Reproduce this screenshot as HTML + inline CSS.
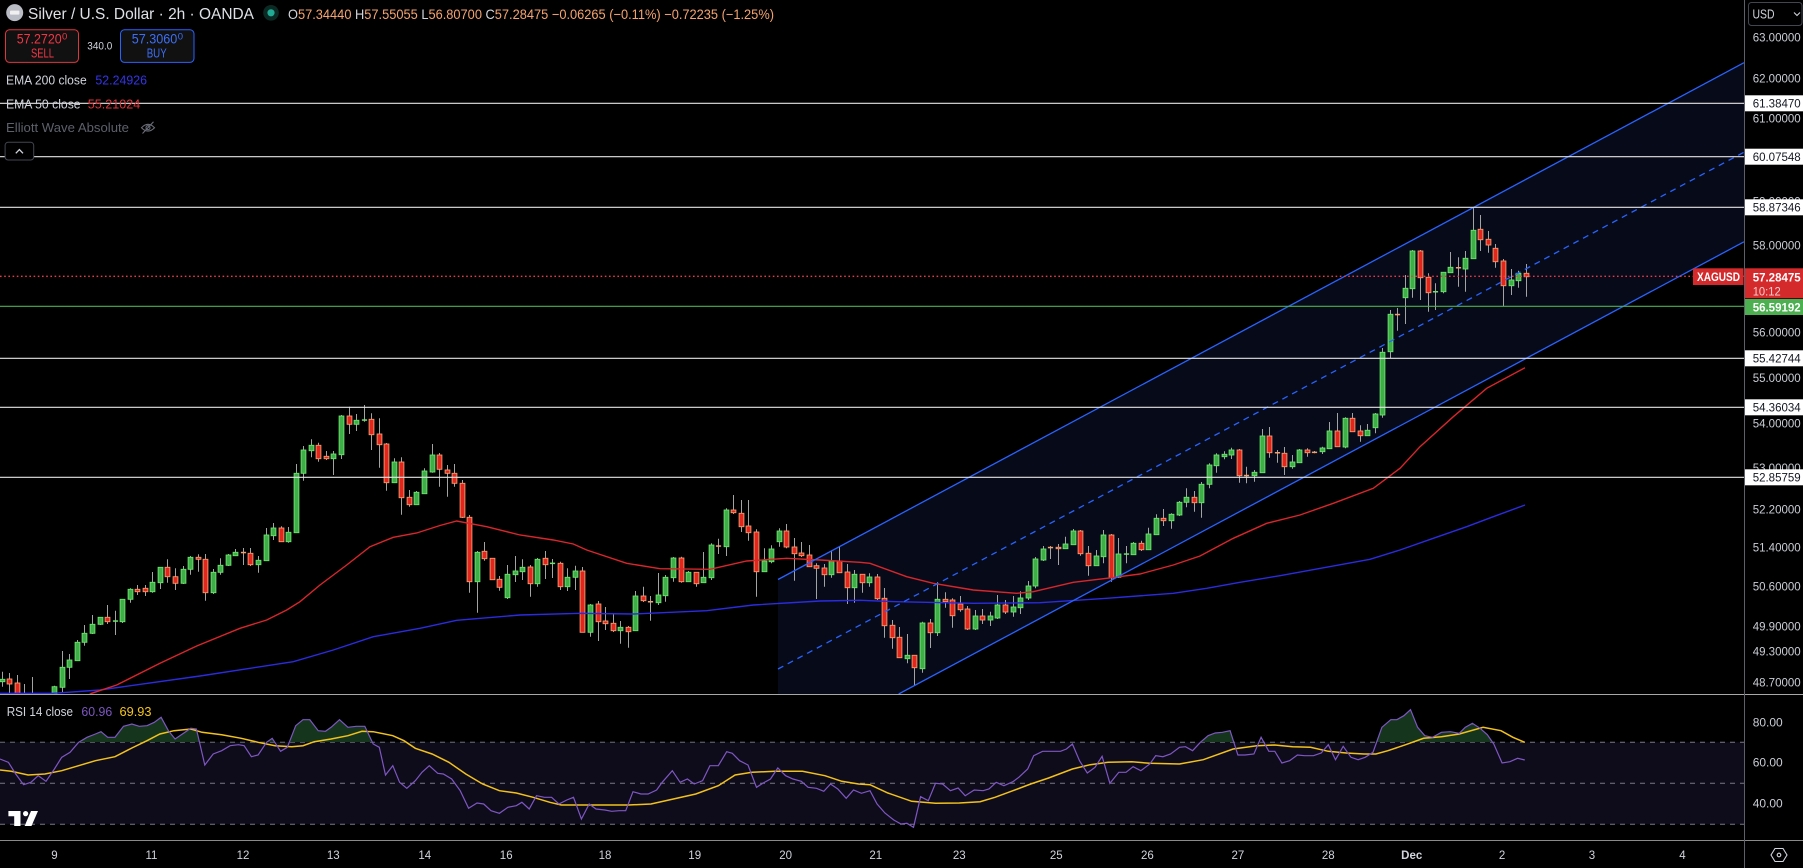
<!DOCTYPE html>
<html><head><meta charset="utf-8">
<style>
html,body{margin:0;padding:0;background:#000;overflow:hidden;}
svg{display:block;}
text{font-family:"Liberation Sans",Arial,sans-serif;}
</style></head>
<body>
<svg id="s" width="1803" height="868" viewBox="0 0 1803 868" xmlns="http://www.w3.org/2000/svg">
<defs>
<clipPath id="cp"><rect x="0" y="0" width="1744" height="694"/></clipPath>
<clipPath id="ob"><rect x="0" y="695" width="1744" height="47.3"/></clipPath>
</defs>
<rect width="1803" height="868" fill="#000"/>

<!-- PRICE PANE -->
<g clip-path="url(#cp)">
 <polygon points="778,579.5 1744,62.7 1744,241.8 898.7,694 778,694" fill="#070b19"/>
 <g id="candles"></g>
 <polyline fill="none" stroke="#2b2be0" stroke-width="1.4" points="0,693.3 53.3,693.3 100,690 200,676 293.3,661.7 333.3,650 373.3,636.7 420,628.3 456.7,620.3 520,615 580,613.3 633.3,614 706.7,610.7 753.3,605 820,601 860,600.3 896.7,601.7 973.3,603.3 1040,602.7 1106.7,598.3 1173.3,593.3 1206.7,588.3 1240,582.3 1280,575.7 1370,559.3 1400,550 1433.3,538.3 1466.7,526.7 1493.3,516.7 1525,505"/>
 <polyline fill="none" stroke="#d8262b" stroke-width="1.4" points="80,700 91.7,693.3 116.7,685 160,663.3 196.7,646 240,628.3 266.7,620 286.7,610 300,601.7 320,585 346.7,565 370,546.7 393.3,537.3 416.7,533 440,525.5 456.7,521 486.7,526.7 520,535 553.3,540 573.3,544 586.7,550 626.7,563.3 660,568.7 710,569.3 746.7,561 786.7,558.3 820,560 860,562.3 870,563.3 906.7,576.7 933.3,583.3 973.3,590 1016.7,593.3 1033.3,591.7 1073.3,582.3 1106.7,578.3 1140,574 1173.3,565 1200,556 1233.3,538.3 1266.7,523.3 1300,515 1333.3,503.3 1373.3,488.3 1386.7,478.3 1400,468.3 1420,446.7 1453.3,416.7 1486.7,388.3 1525,367.7"/>
 <line x1="778" y1="579.5" x2="1744" y2="62.7" stroke="#2962ff" stroke-width="1.3"/>
 <line x1="898.7" y1="694" x2="1744" y2="241.8" stroke="#2962ff" stroke-width="1.3"/>
 <line x1="778" y1="669" x2="1744" y2="152.2" stroke="#2962ff" stroke-width="1.3" stroke-dasharray="6 5"/>
 <g stroke="#e4e4e4" stroke-width="1.2">
  <line x1="0" y1="103.3" x2="1744" y2="103.3"/>
  <line x1="0" y1="156.7" x2="1744" y2="156.7"/>
  <line x1="0" y1="207.3" x2="1744" y2="207.3"/>
  <line x1="0" y1="358.3" x2="1744" y2="358.3"/>
  <line x1="0" y1="407.3" x2="1744" y2="407.3"/>
  <line x1="0" y1="477.3" x2="1744" y2="477.3"/>
 </g>
 <line x1="0" y1="306.3" x2="1744" y2="306.3" stroke="#4caf50" stroke-width="1.1"/>
 <line x1="0" y1="276.3" x2="1744" y2="276.3" stroke="#f23645" stroke-width="1.3" stroke-dasharray="1.6 2.6"/>
</g>

<!-- HEADER -->
<circle cx="14.7" cy="12.6" r="8.5" fill="#b9bcc4"/>
<rect x="10" y="10.6" width="9.4" height="4" rx="0.8" fill="#f0f0f0"/>
<text x="28" y="19.2" font-size="16" fill="#dfe1e6" textLength="226" lengthAdjust="spacingAndGlyphs">Silver / U.S. Dollar · 2h · OANDA</text>
<circle cx="271" cy="12.8" r="7.8" fill="#0c2a24"/>
<circle cx="271" cy="12.8" r="3.6" fill="#22ab94"/>
<text x="288" y="19" font-size="14" fill="#f5a370" textLength="486" lengthAdjust="spacingAndGlyphs"><tspan fill="#d1d4dc">O</tspan>57.34440 <tspan fill="#d1d4dc">H</tspan>57.55055 <tspan fill="#d1d4dc">L</tspan>56.80700 <tspan fill="#d1d4dc">C</tspan>57.28475 −0.06265 (−0.11%) −0.72235 (−1.25%)</text>

<rect x="5.5" y="29.8" width="73" height="32.6" rx="4" fill="#111111" stroke="#e0353b" stroke-width="1"/>
<text x="16.7" y="43.5" font-size="14" fill="#f23645" textLength="45" lengthAdjust="spacingAndGlyphs">57.2720</text>
<text x="62" y="39.3" font-size="9.5" fill="#f23645">0</text>
<text x="31" y="57.5" font-size="12.5" fill="#f23645" textLength="23" lengthAdjust="spacingAndGlyphs">SELL</text>
<text x="87.3" y="49.3" font-size="11" fill="#d1d4dc" textLength="25" lengthAdjust="spacingAndGlyphs">340.0</text>
<rect x="120.5" y="29.8" width="73.5" height="32.6" rx="4" fill="#111111" stroke="#2962ff" stroke-width="1"/>
<text x="131.7" y="43.5" font-size="14" fill="#3d6ef5" textLength="45.6" lengthAdjust="spacingAndGlyphs">57.3060</text>
<text x="177.8" y="39.3" font-size="9.5" fill="#3d6ef5">0</text>
<text x="146.7" y="57.5" font-size="12.5" fill="#3d6ef5" textLength="20" lengthAdjust="spacingAndGlyphs">BUY</text>

<text x="6" y="84.3" font-size="12.5" fill="#d1d4dc" textLength="80.7" lengthAdjust="spacingAndGlyphs">EMA 200 close</text>
<text x="95.4" y="84.3" font-size="12.5" fill="#3434e8" textLength="51.6" lengthAdjust="spacingAndGlyphs">52.24926</text>
<text x="6" y="108.3" font-size="12.5" fill="#d1d4dc" textLength="74.6" lengthAdjust="spacingAndGlyphs">EMA 50 close</text>
<text x="87.8" y="108.3" font-size="12.5" fill="#e0353b" textLength="52.5" lengthAdjust="spacingAndGlyphs">55.21024</text>
<text x="6" y="131.8" font-size="12.5" fill="#5d606b" textLength="123" lengthAdjust="spacingAndGlyphs">Elliott Wave Absolute</text>
<g stroke="#6a6d78" stroke-width="1.1" fill="none">
 <path d="M141.5,127.7 Q148,121 154.5,127.7 Q148,134.4 141.5,127.7 Z"/>
 <circle cx="148" cy="127.7" r="2"/>
 <line x1="142.5" y1="133.5" x2="153.5" y2="121.8"/>
</g>
<rect x="5.1" y="142.3" width="28.6" height="17.7" rx="3" fill="#000" stroke="#434651" stroke-width="1"/>
<path d="M15.8,153.3 L19.4,149.6 L23,153.3" fill="none" stroke="#d1d4dc" stroke-width="1.3"/>

<!-- RSI PANE -->
<rect x="0" y="742.3" width="1744" height="82" fill="#0e0b1b"/>
<g stroke="#787b86" stroke-width="1" stroke-dasharray="5 5">
 <line x1="0" y1="742.3" x2="1744" y2="742.3"/>
 <line x1="0" y1="783.3" x2="1744" y2="783.3"/>
 <line x1="0" y1="824.3" x2="1744" y2="824.3"/>
</g>
<polygon clip-path="url(#ob)" fill="#15361c" points="0,759 8.4,762.3 15.7,774 23.6,784.7 30.9,782.3 38.2,775.7 46,781.3 54.4,769 61.7,757.3 70.1,752.3 78.6,742.3 87,737.3 95.4,734 101,731.7 107.7,737.3 115,737.3 123.5,726.3 131.9,724 139.2,726.3 147,725.7 154.3,722.3 161.1,717.3 168.4,730.7 175.1,739 182.4,734 190.8,728.3 196.4,729 204.8,765 213.2,754 221.7,750.7 230.1,745.7 238.5,744.7 244.1,745.7 251.4,756.7 258.1,755 266.6,742.3 272.2,738.3 280.6,751.3 287.3,747.3 295.7,725.7 303,719.7 309.8,719.7 318.2,730.7 325.5,731.3 331.1,727.3 339.5,719.7 347.9,727.3 356.3,726.3 364.8,726.3 373.2,744 1200.4,742.3 1208.1,735.7 1215.2,733 1222.4,732.3 1230.1,730.7 1237.9,755 1373,752.3 1381.9,727.3 1390.8,719.7 1396.8,719.7 1403.9,715.7 1410.5,709.7 1417.6,727.3 1424.8,735.7 1432.5,737.3 1441.4,732.3 1450.4,731.7 1459.3,733.3 1465.2,727.3 1472.4,723.3 1480.1,728.3 1487.3,734.7 1493.8,744 1524.8,760 1524.8,742.3 0,742.3"/>
<polyline fill="none" stroke="#f2c21b" stroke-width="1.5" points="0,770 11.2,771.3 28.1,775 44.9,774 61.7,770.7 78.6,765.7 95.4,760.7 115,756.7 131.9,748 147,740.7 159.9,734 174,730.7 190.8,729 202,732.3 221.7,734.7 241.3,738.3 258.1,742.3 275,745.7 291.8,746.7 303,745.7 314.3,741.7 331.1,739 347.9,735.7 362,731.3 373.2,731.7 392.8,735.7 404,740.7 415.3,748.3 432.1,754 448.9,762.3 465.8,774 482.6,784 499.4,790.7 516.3,793 533.1,797.3 549.9,802.3 561.2,805 578,805 606.1,805 628.5,805 651,804 673.4,799 695.8,794 718.3,785.7 735.1,775 752,772.3 774.4,771.3 802.5,771.3 824.9,775.7 841.8,781.3 858.6,784 870,784.7 887.9,793 911.7,801.3 935.5,803.3 959.3,803 980.1,801.7 995,797.3 1012.9,790.7 1030.7,784 1048.6,778 1072.4,769 1090.2,764.7 1108.1,762.3 1131.9,761.7 1149.8,763.3 1179.5,764 1203.3,759.7 1233.1,749 1256.9,745.7 1274.8,745 1292.6,746.7 1310.5,747.3 1328.3,751.3 1346.2,753 1364,754 1375.9,754 1387.9,750.7 1405.7,744.7 1423.6,738.3 1441.4,736.7 1459.3,734 1483.1,727.3 1501,730.7 1512.9,737.3 1524.8,742.3"/>
<polyline fill="none" stroke="#7e57c2" stroke-width="1.2" points="0,759 8.4,762.3 15.7,774 23.6,784.7 30.9,782.3 38.2,775.7 46,781.3 54.4,769 61.7,757.3 70.1,752.3 78.6,742.3 87,737.3 95.4,734 101,731.7 107.7,737.3 115,737.3 123.5,726.3 131.9,724 139.2,726.3 147,725.7 154.3,722.3 161.1,717.3 168.4,730.7 175.1,739 182.4,734 190.8,728.3 196.4,729 204.8,765 213.2,754 221.7,750.7 230.1,745.7 238.5,744.7 244.1,745.7 251.4,756.7 258.1,755 266.6,742.3 272.2,738.3 280.6,751.3 287.3,747.3 295.7,725.7 303,719.7 309.8,719.7 318.2,730.7 325.5,731.3 331.1,727.3 339.5,719.7 347.9,727.3 356.3,726.3 364.8,726.3 373.2,744 379.3,747.3 385.5,775 392.8,765.7 399.6,782.3 406.8,788.3 415.3,780.7 422,772.3 429.3,765.7 437.7,773.3 443.3,774 451.7,779 460.2,790.7 468.6,808.3 477,803 483.7,804 491,810.7 499.4,813.3 507.9,807.3 516.3,805.7 521.9,802.3 529.2,809 536.5,795.7 544.3,797.3 551.6,797.3 558.9,804 566.8,800 573.5,797.3 581.4,819 589.2,804 596,809 604.9,810 611.7,811.3 619,810.7 625.7,810.7 633,791.7 640.9,794 648.1,794 656.6,790 662.2,782.3 672.3,770.7 680.1,782.3 687.4,779 694.2,784 702.6,780.7 709.9,765.7 718.3,765.7 726.7,751.7 732.3,753.3 739.6,760.7 748,765 756.5,787.3 763.2,783 770.5,779 777.8,768 785.6,775.7 793,779 801.3,781.3 808.1,787.3 816.5,788.3 823.8,791.3 830.5,784 837.8,789 846.2,798.3 853.5,790 861.4,793.3 870,790.7 877.1,804 884.9,813 893.8,820 901,824 906.9,823.3 913.5,827.3 920.6,796.7 928.3,800.7 935.5,783.3 942.6,784 950.4,790.7 958.1,788 965.2,795.7 974.2,790 983.1,790.7 989,789 996.2,782.3 1003.9,785.7 1012.9,781.7 1018.8,777.3 1027.7,769 1033.7,755.7 1042.6,751.3 1051.5,751.3 1060.5,751.3 1066.4,749 1072.4,744 1079.5,760.7 1087.3,773 1095,767.3 1102.1,756.3 1109.9,783.3 1118.8,772.3 1126,772.3 1133.1,766.7 1140.8,770.7 1149.8,764 1155.7,755.7 1162.9,756.7 1170.6,754 1179.5,747.3 1185.5,746.7 1192.6,750.7 1200.4,742.3 1208.1,735.7 1215.2,733 1222.4,732.3 1230.1,730.7 1237.9,755 1245,755 1253.9,754 1261.1,737.3 1268.8,751.3 1274.8,751.3 1281.9,763 1289.6,760.7 1297.4,755 1304.5,755.7 1313.5,755.7 1321.2,753 1328.3,744.7 1335.5,759.7 1343.2,746.3 1351,757.3 1358.1,759.7 1365.2,757.3 1373,752.3 1381.9,727.3 1390.8,719.7 1396.8,719.7 1403.9,715.7 1410.5,709.7 1417.6,727.3 1424.8,735.7 1432.5,737.3 1441.4,732.3 1450.4,731.7 1459.3,733.3 1465.2,727.3 1472.4,723.3 1480.1,728.3 1487.3,734.7 1493.8,744 1502.1,763 1509.9,761.7 1517.6,758.3 1524.8,760"/>
<text x="6.7" y="716" font-size="12.5" fill="#d1d4dc" textLength="66.3" lengthAdjust="spacingAndGlyphs">RSI 14 close</text>
<text x="81.4" y="716" font-size="12.5" fill="#7e57c2" textLength="30.8" lengthAdjust="spacingAndGlyphs">60.96</text>
<text x="119.5" y="716" font-size="12.5" fill="#f5c518" textLength="32" lengthAdjust="spacingAndGlyphs">69.93</text>
<g fill="#ffffff">
 <path d="M8.4,811 H20.5 V826 H14.2 V816.2 H8.4 Z"/>
 <circle cx="25.6" cy="813.6" r="2.6"/>
 <path d="M31,811 H38 L31.5,826 H24.6 Z"/>
</g>

<!-- separators -->
<line x1="0" y1="694.5" x2="1803" y2="694.5" stroke="#a8a8a8" stroke-width="1"/>
<line x1="0" y1="840.5" x2="1803" y2="840.5" stroke="#8a8a8a" stroke-width="1"/>
<line x1="1744.5" y1="0" x2="1744.5" y2="868" stroke="#5d606b" stroke-width="1"/>

<!-- PRICE AXIS -->
<rect x="1748.5" y="2.5" width="53.5" height="23" rx="3" fill="#000" stroke="#434651" stroke-width="1"/>
<text x="1752.5" y="18.5" font-size="12.5" fill="#d1d4dc" textLength="22" lengthAdjust="spacingAndGlyphs">USD</text>
<path d="M1794,12.5 L1797,15.5 L1800,12.5" fill="none" stroke="#d1d4dc" stroke-width="1.1"/>
<g font-size="12" fill="#c9ccd4">
 <text x="1752.7" y="41.5" textLength="48" lengthAdjust="spacingAndGlyphs">63.00000</text>
 <text x="1752.7" y="82.5" textLength="48" lengthAdjust="spacingAndGlyphs">62.00000</text>
 <text x="1752.7" y="122.5" textLength="48" lengthAdjust="spacingAndGlyphs">61.00000</text>
 <text x="1752.7" y="205.5" textLength="48" lengthAdjust="spacingAndGlyphs">59.00000</text>
 <text x="1752.7" y="249.5" textLength="48" lengthAdjust="spacingAndGlyphs">58.00000</text>
 <text x="1752.7" y="336.5" textLength="48" lengthAdjust="spacingAndGlyphs">56.00000</text>
 <text x="1752.7" y="382" textLength="48" lengthAdjust="spacingAndGlyphs">55.00000</text>
 <text x="1752.7" y="427.5" textLength="48" lengthAdjust="spacingAndGlyphs">54.00000</text>
 <text x="1752.7" y="472" textLength="48" lengthAdjust="spacingAndGlyphs">53.00000</text>
 <text x="1752.7" y="513.5" textLength="48" lengthAdjust="spacingAndGlyphs">52.20000</text>
 <text x="1752.7" y="551.5" textLength="48" lengthAdjust="spacingAndGlyphs">51.40000</text>
 <text x="1752.7" y="590.5" textLength="48" lengthAdjust="spacingAndGlyphs">50.60000</text>
 <text x="1752.7" y="630.5" textLength="48" lengthAdjust="spacingAndGlyphs">49.90000</text>
 <text x="1752.7" y="655.5" textLength="48" lengthAdjust="spacingAndGlyphs">49.30000</text>
 <text x="1752.7" y="686.5" textLength="48" lengthAdjust="spacingAndGlyphs">48.70000</text>
 <text x="1752.7" y="726.5" textLength="30" lengthAdjust="spacingAndGlyphs">80.00</text>
 <text x="1752.7" y="766.5" textLength="30" lengthAdjust="spacingAndGlyphs">60.00</text>
 <text x="1752.7" y="807.5" textLength="30" lengthAdjust="spacingAndGlyphs">40.00</text>
</g>
<g>
 <rect x="1745" y="95.3" width="58" height="16" fill="#ffffff"/>
 <rect x="1745" y="148.7" width="58" height="16" fill="#ffffff"/>
 <rect x="1745" y="199.3" width="58" height="16" fill="#ffffff"/>
 <rect x="1745" y="350.3" width="58" height="16" fill="#ffffff"/>
 <rect x="1745" y="399.3" width="58" height="16" fill="#ffffff"/>
 <rect x="1745" y="469.3" width="58" height="16" fill="#ffffff"/>
</g>
<g font-size="12" fill="#131722">
 <text x="1752.7" y="107.6" textLength="48" lengthAdjust="spacingAndGlyphs">61.38470</text>
 <text x="1752.7" y="161" textLength="48" lengthAdjust="spacingAndGlyphs">60.07548</text>
 <text x="1752.7" y="211.6" textLength="48" lengthAdjust="spacingAndGlyphs">58.87346</text>
 <text x="1752.7" y="362.6" textLength="48" lengthAdjust="spacingAndGlyphs">55.42744</text>
 <text x="1752.7" y="411.6" textLength="48" lengthAdjust="spacingAndGlyphs">54.36034</text>
 <text x="1752.7" y="481.6" textLength="48" lengthAdjust="spacingAndGlyphs">52.85759</text>
</g>
<rect x="1745" y="268.3" width="58" height="30" fill="#d42a2c"/>
<text x="1752.7" y="281.5" font-size="12" font-weight="bold" fill="#ffffff" textLength="48" lengthAdjust="spacingAndGlyphs">57.28475</text>
<text x="1752.7" y="295.5" font-size="12" fill="#f5d0d0" textLength="28" lengthAdjust="spacingAndGlyphs">10:12</text>
<rect x="1745" y="299" width="58" height="16" fill="#4caf50"/>
<text x="1752.7" y="311.5" font-size="12" font-weight="bold" fill="#ffffff" textLength="48" lengthAdjust="spacingAndGlyphs">56.59192</text>
<rect x="1693" y="268.3" width="50.5" height="16.7" fill="#d42a2c"/>
<text x="1697" y="281" font-size="11.5" font-weight="bold" fill="#ffffff" textLength="43" lengthAdjust="spacingAndGlyphs">XAGUSD</text>

<!-- TIME AXIS -->
<g font-size="11.5" fill="#d1d4dc" text-anchor="middle">
 <text x="54.4" y="859">9</text>
 <text x="151.5" y="859">11</text>
 <text x="243" y="859">12</text>
 <text x="333.3" y="859">13</text>
 <text x="424.8" y="859">14</text>
 <text x="506.2" y="859">16</text>
 <text x="605" y="859">18</text>
 <text x="694.7" y="859">19</text>
 <text x="785.6" y="859">20</text>
 <text x="875.8" y="859">21</text>
 <text x="959.3" y="859">23</text>
 <text x="1056.3" y="859">25</text>
 <text x="1147.4" y="859">26</text>
 <text x="1237.9" y="859">27</text>
 <text x="1328.3" y="859">28</text>
 <text x="1411.7" y="859" font-weight="bold">Dec</text>
 <text x="1502.1" y="859">2</text>
 <text x="1592" y="859">3</text>
 <text x="1682.5" y="859">4</text>
</g>
<path d="M1775,848.5 L1783,848.5 L1787,855 L1783,861.5 L1775,861.5 L1771,855 Z" fill="none" stroke="#d1d4dc" stroke-width="1.1"/>
<circle cx="1779" cy="855" r="1.8" fill="none" stroke="#d1d4dc" stroke-width="1.1"/>
</svg>
<script>
var C=[
[1,679.3,681.7,671.7,686.7],[0,679,684,673,693],[0,683,700,675,705],[0,700,710,684,715],[1,700,710,677,715],
[0,705,715,700,720],[1,700,712,695,715],[1,686.7,694,685.7,697],[1,667.3,687.3,651,692],[1,660,667.3,654,679],
[1,642.3,660.7,640,661],[1,633.3,642.3,625,645.7],[1,624.3,633.3,615,634],[1,617.3,624.3,617,625],[0,617.3,621.7,605,624],
[3,621,621,610.7,635],[1,599.3,621.7,599,623],[1,589.3,599.3,588.3,602.7],[0,589.3,591.7,585,595],[0,588.3,591.7,585,596],
[1,582.3,591.7,572,592.7],[1,567.3,582.7,567,589],[0,567.3,576.7,559.3,582.7],[0,576.7,583.3,568.3,590],[1,569.3,583.3,566,584],
[1,557.3,569.3,556,574.7],[0,557.3,559.3,554.3,571.7],[0,559.3,592.7,554,600.7],[1,572.3,592.7,569,594],[1,565.3,572.3,558.3,574.7],
[1,555,565.3,554,566],[1,552.3,555.7,549,556],[2,552.5,552.5,548,565],[0,553.3,564.7,548,566],[1,560.3,564.7,556,572.7],
[1,535,560.7,528,561],[1,528,535.7,523,540],[0,528,541.7,526.3,542],[1,532.3,541.7,527,542.7],[1,473.3,532.7,464,533],
[1,450,473.3,446,480.7],[1,445.3,450.7,439.3,457.3],[0,445.3,458.7,442.7,461.7],[0,456.3,458.7,451,460],[1,454,458.7,451,475],
[1,416,454.7,415,459],[0,416,424.3,406.7,434],[1,420.3,424.3,414,431],[3,420,420,405,421.7],[0,419.3,434.7,413.3,450],
[0,434,444.7,418.3,467.7],[0,444,482.7,443,490.7],[1,462,482.7,458.3,483],[0,462,497.7,457.3,514.7],[0,497.3,504.7,490,506.7],
[1,492.3,504.7,491,505],[1,471,493.7,468.3,494],[1,455,472,444,472.7],[0,455,469.3,453,486.7],[0,470,473.3,465,496.7],
[0,473.3,483.3,464,486.7],[0,483.3,517.3,480,518],[0,517.3,581.7,515,592.7],[1,552.3,581.7,551,612.7],[0,551.3,558.7,542,560.7],
[0,558.3,579.7,558,580],[0,579.3,587.3,576,590.7],[1,574.3,597.7,565,599],[1,571,574.7,556,582],[1,567.3,571.7,559.3,580],
[0,567,583.7,565,596.7],[1,559.3,583.7,558,586.7],[0,558.3,564.7,551,579],[3,563.3,563.3,559,578],[0,563.3,586.7,561.7,590],
[1,577.3,586.7,568.3,591],[1,571,577.3,565.7,590],[0,571,632.3,567,632.5],[1,605,632.3,604,636.7],[0,604,621.7,601,641],
[0,621,623.7,607,630],[0,623.3,630.7,613,632],[1,627.3,630.7,621,643.7],[0,627.3,631.7,626,647.7],[1,596,630.7,591,631],
[0,596,600.7,586.7,602],[2,601.7,601.7,596,620.7],[1,595,602.7,573,605],[1,577.3,595.7,575,601.7],[1,558,577.7,557,581.7],
[0,558,581.7,556.7,582.7],[1,572.3,581.7,571,582],[0,572.3,583.7,572,586.7],[1,577.3,582.7,552,583],[1,545,577.7,543.3,580],
[2,546,546,538.7,554],[1,510,546.7,508.3,556],[0,510,512.7,495,514],[0,513.3,526.7,500,532],[0,526,532.7,500,540.7],
[0,532,571.7,529.3,596.7],[1,561,571.7,548.3,572],[1,549,561.7,545.3,563.3],[1,531,541.7,528.3,546.7],[0,531,547,524,548.3],
[0,547,553.7,538,580.7],[0,553,555.7,542,557],[0,555,566.7,545,567],[0,565.7,568.3,563.3,599],[0,568,574.7,564,586.7],
[1,561,574.7,550.7,577.7],[0,561,572.7,546,573],[0,572,587.7,564,604],[1,574.3,587.7,570,602.7],[0,574.3,582.7,574,592.7],
[1,577,582.7,573.3,586.7],[0,577,598.7,574,600],[0,598.3,625.7,588,637.7],[0,625.3,637.7,620,648.7],[0,637.3,657.7,627,658],
[1,655.3,658.7,634,663.3],[0,655.3,667.7,655,685],[1,623,668.7,621.7,672.7],[0,623,632.7,619,648],[1,599.3,632.7,582.3,636],
[0,599.3,601.7,592.3,607.7],[0,600,615.7,598.3,627.7],[0,604,609.7,596,611.7],[0,609,629,606,630],[1,616,629,610,630],
[0,616,620,609,624],[1,616,620,611.7,626],[1,605,618,595,619],[0,605,612,600,614],[1,607,612,596,616.7],
[1,598,607.7,591.3,614],[1,586,598,581,600],[1,559,586,557,588.3],[1,549,560,546,561],[2,547.5,547.5,546,559],
[0,547.3,548.7,544,565],[1,544,548.7,536.7,549],[1,531,544.7,529,545],[0,531,553.7,530,555.7],[0,553.3,565.7,546,575.7],
[1,556,565.7,550,566],[1,535,556.7,530,563.3],[0,535,578,534,581.7],[1,554,577.3,538,578],[3,554,554,546,563.3],
[1,543.3,554.7,542,555],[0,543.3,549.7,540.7,551],[1,534,549.7,527.7,550],[1,518.3,534.7,514.3,535],[0,518.3,520.7,509,526],
[1,514.3,520.7,513.3,528.7],[1,502.3,515,501,516],[1,497.3,502.3,488.3,507.3],[0,497.3,502.7,491,511.7],[1,484.3,502.7,482,517.7],
[1,465,484.3,463.3,488.3],[1,455,465.7,453.3,472.7],[1,454.3,456.7,451.3,459.3],[1,450,455,447.7,459],[0,450,475.7,449,482.7],
[2,475.5,475.5,466.7,483.3],[1,472.3,475.7,470,481.7],[1,436,472.7,429,473],[0,436,452.7,427,457.7],[2,452.7,452.7,450,462.7],
[0,453.3,466.7,447,475],[1,462,466.7,455,468.7],[1,450,462.7,449,463],[0,450,452.7,448.3,456.7],[2,452.3,452.3,451,453.3],
[1,448,451.7,446.7,454],[1,431,448.7,422,449],[0,431,446.7,413,447],[1,418.3,447,417.3,448.3],[0,418.3,431.7,413,432],
[0,431,435.7,425.3,441.7],[1,430.3,435.7,424,436],[1,414,427.7,413,433.3],[1,352.3,415,348,417.7],[1,314.3,351.7,310,358],
[2,314.5,314.5,308,330.7],[1,288.3,297.7,275,324],[1,251,288.7,250,297.7],[0,251,277.7,250,300],[0,277.3,292.7,273.3,311.7],
[3,291.7,291.7,283.3,310],[1,272.3,291.7,272,293.3],[1,267.3,272.7,252,273],[2,267.7,267.7,257.3,286.7],[1,258.3,269,251,291.7],
[1,230.3,258.7,207.3,259],[0,229.3,239.7,215,251],[0,239.3,245,231,252.7],[0,248.3,261.7,244,267.7],[0,261,285.7,259,306.3],
[1,280,285.7,269,295],[1,273.3,280.7,270.7,287.7],[0,273.3,276.7,264,296.7]
];
var s='';
for(var i=0;i<C.length;i++){
 var c=C[i],x=Math.round(1.5+7.545*i)+0.5,t=c[0];
 s+='<line x1="'+x+'" x2="'+x+'" y1="'+c[3]+'" y2="'+c[4]+'" stroke="#a3a3a3" stroke-width="1"/>';
 if(t>=2){
  s+='<rect x="'+(x-2.6)+'" y="'+(c[1]-0.7)+'" width="5.2" height="1.5" fill="'+(t==2?'#f5a06c':'#6be46b')+'"/>';
 } else {
  var f=t==1?'#3fae48':'#e3261d', st=t==1?'#6be46b':'#f59a6f';
  s+='<rect x="'+(x-2.4)+'" y="'+c[1]+'" width="4.8" height="'+Math.max(c[2]-c[1],1)+'" fill="'+f+'" stroke="'+st+'" stroke-width="0.9"/>';
 }
}
document.getElementById('candles').innerHTML=s;
</script>
</body></html>
